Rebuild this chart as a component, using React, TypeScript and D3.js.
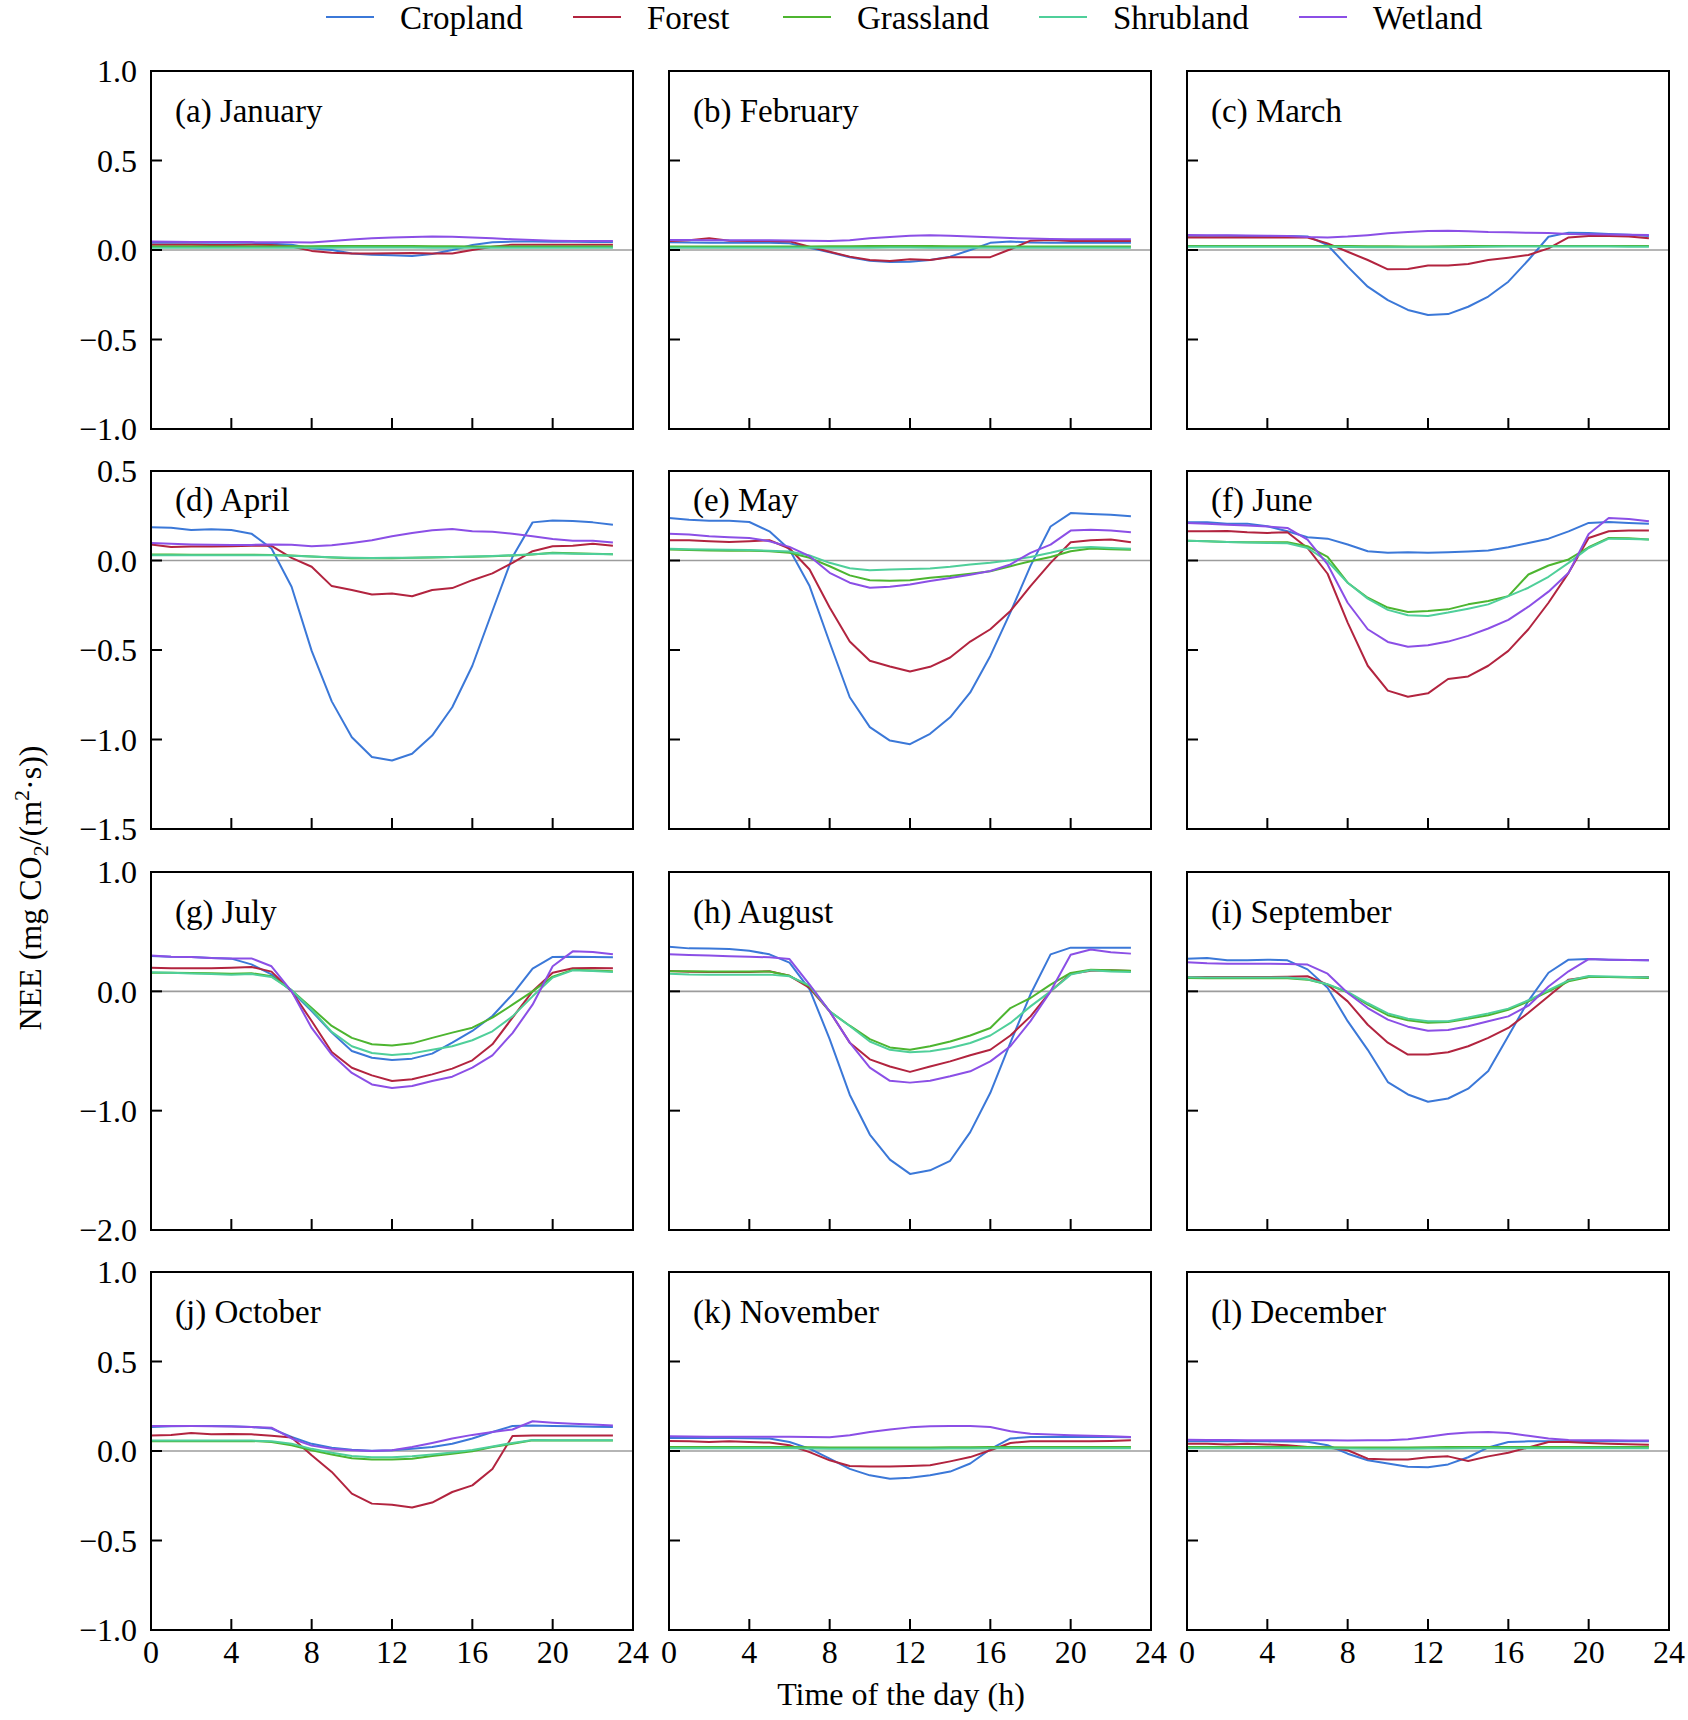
import React from "react";
import * as d3 from "d3";

// hourly mean NEE, one row per month (Jan..Dec), 24 hours each
const months = ["(a) January", "(b) February", "(c) March", "(d) April", "(e) May", "(f) June",
	"(g) July", "(h) August", "(i) September", "(j) October", "(k) November", "(l) December"];

const cropland = [
	[0.04, 0.04, 0.04, 0.04, 0.04, 0.04, 0.035, 0.03, 0.01, 0, -0.02, -0.027, -0.03, -0.033, -0.022, 0, 0.028, 0.043, 0.047, 0.047, 0.046, 0.046, 0.045, 0.045],
	[0.043, 0.042, 0.041, 0.04, 0.04, 0.04, 0.038, 0.013, -0.013, -0.04, -0.06, -0.067, -0.065, -0.056, -0.037, 0, 0.04, 0.047, 0.042, 0.04, 0.04, 0.04, 0.04, 0.04],
	[0.08, 0.08, 0.079, 0.078, 0.078, 0.078, 0.076, 0.028, -0.093, -0.205, -0.28, -0.335, -0.363, -0.358, -0.317, -0.26, -0.177, -0.056, 0.074, 0.097, 0.095, 0.09, 0.085, 0.078],
	[0.186, 0.183, 0.17, 0.175, 0.17, 0.15, 0.067, -0.147, -0.505, -0.787, -0.987, -1.098, -1.117, -1.08, -0.978, -0.82, -0.588, -0.282, 0.02, 0.213, 0.223, 0.22, 0.213, 0.2],
	[0.237, 0.228, 0.222, 0.222, 0.215, 0.163, 0.061, -0.143, -0.458, -0.764, -0.931, -1.006, -1.026, -0.968, -0.876, -0.737, -0.533, -0.29, -0.03, 0.19, 0.265, 0.26, 0.256, 0.247],
	[0.213, 0.213, 0.206, 0.206, 0.191, 0.163, 0.13, 0.122, 0.089, 0.052, 0.043, 0.046, 0.043, 0.046, 0.05, 0.056, 0.074, 0.098, 0.122, 0.163, 0.21, 0.215, 0.21, 0.206],
	[0.296, 0.29, 0.288, 0.28, 0.274, 0.226, 0.142, 0, -0.165, -0.346, -0.5, -0.556, -0.575, -0.564, -0.522, -0.43, -0.332, -0.207, -0.025, 0.19, 0.288, 0.29, 0.288, 0.285],
	[0.374, 0.36, 0.358, 0.354, 0.34, 0.31, 0.24, 0.017, -0.4, -0.866, -1.2, -1.41, -1.53, -1.5, -1.42, -1.18, -0.85, -0.43, -0.025, 0.31, 0.366, 0.366, 0.366, 0.366],
	[0.274, 0.28, 0.26, 0.26, 0.265, 0.26, 0.184, 0.03, -0.25, -0.49, -0.76, -0.864, -0.925, -0.898, -0.816, -0.668, -0.374, -0.08, 0.156, 0.265, 0.27, 0.265, 0.262, 0.26],
	[0.134, 0.138, 0.14, 0.14, 0.138, 0.134, 0.125, 0.078, 0.04, 0.018, 0.007, 0.002, 0.004, 0.013, 0.022, 0.04, 0.07, 0.106, 0.14, 0.143, 0.14, 0.138, 0.136, 0.134],
	[0.073, 0.073, 0.072, 0.072, 0.071, 0.07, 0.05, 0.013, -0.043, -0.1, -0.136, -0.155, -0.15, -0.136, -0.115, -0.07, 0.01, 0.07, 0.078, 0.078, 0.078, 0.078, 0.078, 0.077],
	[0.054, 0.054, 0.054, 0.054, 0.054, 0.053, 0.052, 0.032, -0.015, -0.052, -0.07, -0.088, -0.091, -0.075, -0.035, 0.02, 0.05, 0.054, 0.054, 0.054, 0.054, 0.054, 0.054, 0.054],
];

const forest = [
	[0.03, 0.03, 0.03, 0.028, 0.028, 0.03, 0.028, 0.02, -0.005, -0.015, -0.02, -0.02, -0.018, -0.017, -0.019, -0.02, 0, 0.018, 0.03, 0.03, 0.03, 0.03, 0.03, 0.03],
	[0.05, 0.055, 0.065, 0.052, 0.05, 0.05, 0.048, 0.018, -0.01, -0.037, -0.056, -0.061, -0.052, -0.056, -0.04, -0.04, -0.04, 0.004, 0.052, 0.056, 0.05, 0.05, 0.05, 0.05],
	[0.07, 0.07, 0.07, 0.07, 0.07, 0.07, 0.07, 0.037, -0.01, -0.056, -0.108, -0.106, -0.087, -0.087, -0.078, -0.056, -0.043, -0.028, 0.009, 0.07, 0.078, 0.078, 0.075, 0.065],
	[0.089, 0.076, 0.078, 0.078, 0.08, 0.083, 0.082, 0.015, -0.035, -0.143, -0.165, -0.19, -0.184, -0.2, -0.165, -0.154, -0.11, -0.072, -0.013, 0.052, 0.08, 0.083, 0.093, 0.083],
	[0.113, 0.113, 0.108, 0.104, 0.108, 0.113, 0.067, -0.05, -0.263, -0.453, -0.56, -0.592, -0.62, -0.594, -0.542, -0.453, -0.384, -0.282, -0.143, -0.013, 0.102, 0.113, 0.117, 0.102],
	[0.163, 0.163, 0.165, 0.158, 0.154, 0.158, 0.07, -0.074, -0.347, -0.588, -0.727, -0.761, -0.742, -0.662, -0.648, -0.588, -0.505, -0.384, -0.236, -0.069, 0.126, 0.163, 0.167, 0.167],
	[0.198, 0.193, 0.193, 0.193, 0.198, 0.204, 0.165, 0, -0.249, -0.508, -0.64, -0.704, -0.751, -0.737, -0.696, -0.648, -0.578, -0.444, -0.221, 0, 0.156, 0.193, 0.196, 0.193],
	[0.17, 0.165, 0.162, 0.162, 0.162, 0.168, 0.13, 0.028, -0.168, -0.43, -0.57, -0.63, -0.675, -0.63, -0.587, -0.536, -0.49, -0.37, -0.21, 0, 0.148, 0.173, 0.176, 0.17],
	[0.117, 0.12, 0.12, 0.12, 0.12, 0.122, 0.126, 0.056, -0.084, -0.28, -0.43, -0.53, -0.53, -0.51, -0.46, -0.39, -0.307, -0.18, -0.042, 0.098, 0.12, 0.12, 0.12, 0.12],
	[0.087, 0.09, 0.1, 0.093, 0.095, 0.093, 0.085, 0.075, -0.024, -0.117, -0.238, -0.294, -0.3, -0.316, -0.288, -0.229, -0.192, -0.1, 0.084, 0.087, 0.087, 0.087, 0.087, 0.087],
	[0.056, 0.054, 0.05, 0.054, 0.05, 0.047, 0.032, -0.006, -0.052, -0.084, -0.086, -0.086, -0.084, -0.08, -0.058, -0.034, 0.004, 0.045, 0.054, 0.054, 0.054, 0.054, 0.056, 0.06],
	[0.041, 0.041, 0.037, 0.041, 0.037, 0.032, 0.022, 0.02, 0.004, -0.043, -0.048, -0.048, -0.035, -0.03, -0.056, -0.03, -0.01, 0.02, 0.05, 0.05, 0.045, 0.041, 0.038, 0.035],
];

const grassland = [
	[0.02, 0.02, 0.02, 0.02, 0.02, 0.02, 0.02, 0.021, 0.021, 0.022, 0.022, 0.022, 0.022, 0.022, 0.021, 0.021, 0.02, 0.02, 0.02, 0.02, 0.02, 0.02, 0.02, 0.02],
	[0.02, 0.02, 0.02, 0.02, 0.02, 0.02, 0.02, 0.02, 0.021, 0.021, 0.022, 0.022, 0.022, 0.022, 0.021, 0.021, 0.02, 0.02, 0.02, 0.02, 0.02, 0.02, 0.02, 0.02],
	[0.022, 0.022, 0.022, 0.022, 0.022, 0.022, 0.022, 0.022, 0.022, 0.021, 0.021, 0.02, 0.02, 0.021, 0.022, 0.023, 0.023, 0.022, 0.022, 0.022, 0.022, 0.022, 0.022, 0.022],
	[0.033, 0.033, 0.032, 0.032, 0.032, 0.032, 0.031, 0.028, 0.022, 0.017, 0.013, 0.012, 0.013, 0.015, 0.017, 0.019, 0.021, 0.024, 0.028, 0.033, 0.043, 0.04, 0.038, 0.035],
	[0.061, 0.059, 0.056, 0.055, 0.054, 0.052, 0.043, 0.015, -0.032, -0.083, -0.11, -0.113, -0.11, -0.096, -0.087, -0.074, -0.06, -0.032, -0.004, 0.02, 0.052, 0.067, 0.063, 0.06],
	[0.111, 0.107, 0.104, 0.102, 0.102, 0.102, 0.08, 0.02, -0.124, -0.208, -0.263, -0.288, -0.282, -0.273, -0.245, -0.226, -0.199, -0.078, -0.028, 0.006, 0.074, 0.126, 0.124, 0.117],
	[0.156, 0.156, 0.154, 0.151, 0.148, 0.152, 0.126, 0.01, -0.14, -0.29, -0.39, -0.444, -0.453, -0.436, -0.39, -0.346, -0.305, -0.221, -0.112, 0, 0.123, 0.18, 0.175, 0.168],
	[0.168, 0.168, 0.167, 0.167, 0.166, 0.166, 0.13, 0.042, -0.168, -0.288, -0.4, -0.47, -0.49, -0.46, -0.42, -0.37, -0.307, -0.14, -0.056, 0.056, 0.154, 0.18, 0.176, 0.173],
	[0.112, 0.11, 0.11, 0.11, 0.11, 0.11, 0.098, 0.056, -0.008, -0.112, -0.2, -0.243, -0.263, -0.257, -0.23, -0.2, -0.154, -0.084, 0, 0.084, 0.12, 0.12, 0.116, 0.112],
	[0.054, 0.054, 0.054, 0.055, 0.055, 0.056, 0.05, 0.032, 0.004, -0.02, -0.04, -0.048, -0.048, -0.043, -0.028, -0.015, -0.002, 0.022, 0.04, 0.06, 0.058, 0.058, 0.058, 0.058],
	[0.022, 0.022, 0.022, 0.022, 0.022, 0.022, 0.022, 0.021, 0.02, 0.02, 0.019, 0.019, 0.02, 0.02, 0.021, 0.021, 0.022, 0.022, 0.022, 0.022, 0.022, 0.022, 0.022, 0.022],
	[0.022, 0.022, 0.022, 0.022, 0.022, 0.022, 0.022, 0.021, 0.02, 0.02, 0.02, 0.02, 0.021, 0.022, 0.022, 0.022, 0.022, 0.022, 0.022, 0.022, 0.022, 0.022, 0.022, 0.022],
];

const shrubland = [
	[0.012, 0.012, 0.012, 0.012, 0.012, 0.012, 0.012, 0.012, 0.013, 0.013, 0.014, 0.014, 0.014, 0.014, 0.013, 0.013, 0.012, 0.012, 0.012, 0.012, 0.012, 0.012, 0.012, 0.012],
	[0.012, 0.012, 0.012, 0.012, 0.012, 0.012, 0.012, 0.012, 0.012, 0.013, 0.013, 0.014, 0.014, 0.013, 0.013, 0.012, 0.012, 0.012, 0.012, 0.012, 0.012, 0.012, 0.012, 0.012],
	[0.018, 0.018, 0.018, 0.018, 0.018, 0.018, 0.018, 0.018, 0.017, 0.016, 0.016, 0.015, 0.015, 0.016, 0.017, 0.018, 0.019, 0.019, 0.019, 0.019, 0.019, 0.019, 0.018, 0.018],
	[0.03, 0.03, 0.03, 0.03, 0.03, 0.03, 0.03, 0.027, 0.022, 0.018, 0.015, 0.014, 0.015, 0.016, 0.018, 0.02, 0.022, 0.025, 0.03, 0.035, 0.04, 0.038, 0.036, 0.035],
	[0.065, 0.063, 0.062, 0.06, 0.058, 0.055, 0.05, 0.028, -0.013, -0.043, -0.054, -0.05, -0.048, -0.045, -0.035, -0.022, -0.013, 0.002, 0.02, 0.043, 0.07, 0.076, 0.07, 0.065],
	[0.111, 0.107, 0.104, 0.1, 0.098, 0.096, 0.07, -0.004, -0.124, -0.213, -0.276, -0.306, -0.31, -0.291, -0.269, -0.245, -0.199, -0.152, -0.091, -0.013, 0.07, 0.122, 0.12, 0.117],
	[0.16, 0.155, 0.15, 0.145, 0.14, 0.145, 0.12, 0.01, -0.154, -0.34, -0.46, -0.517, -0.533, -0.52, -0.49, -0.46, -0.41, -0.335, -0.21, -0.042, 0.115, 0.176, 0.17, 0.162],
	[0.148, 0.142, 0.14, 0.14, 0.14, 0.14, 0.126, 0.05, -0.168, -0.29, -0.42, -0.49, -0.51, -0.503, -0.475, -0.433, -0.37, -0.265, -0.126, 0, 0.14, 0.176, 0.166, 0.162],
	[0.118, 0.116, 0.116, 0.115, 0.115, 0.115, 0.102, 0.06, -0.004, -0.1, -0.185, -0.23, -0.25, -0.25, -0.22, -0.185, -0.145, -0.075, 0.01, 0.092, 0.128, 0.125, 0.12, 0.118],
	[0.058, 0.058, 0.058, 0.058, 0.058, 0.058, 0.055, 0.04, 0.012, -0.01, -0.028, -0.035, -0.035, -0.03, -0.02, -0.008, 0.005, 0.025, 0.045, 0.062, 0.06, 0.06, 0.06, 0.06],
	[0.015, 0.015, 0.015, 0.015, 0.015, 0.015, 0.015, 0.014, 0.013, 0.013, 0.012, 0.012, 0.013, 0.013, 0.014, 0.014, 0.015, 0.015, 0.015, 0.015, 0.015, 0.015, 0.015, 0.015],
	[0.015, 0.015, 0.015, 0.015, 0.015, 0.015, 0.015, 0.014, 0.014, 0.013, 0.013, 0.013, 0.014, 0.014, 0.015, 0.015, 0.015, 0.015, 0.015, 0.015, 0.015, 0.015, 0.015, 0.015],
];

const wetland = [
	[0.047, 0.046, 0.045, 0.045, 0.044, 0.044, 0.043, 0.043, 0.042, 0.05, 0.058, 0.065, 0.07, 0.073, 0.075, 0.074, 0.07, 0.065, 0.06, 0.056, 0.052, 0.05, 0.05, 0.05],
	[0.056, 0.056, 0.055, 0.055, 0.055, 0.054, 0.053, 0.052, 0.05, 0.055, 0.065, 0.073, 0.08, 0.082, 0.079, 0.075, 0.071, 0.067, 0.064, 0.062, 0.06, 0.06, 0.06, 0.06],
	[0.084, 0.083, 0.082, 0.081, 0.08, 0.078, 0.072, 0.07, 0.075, 0.083, 0.093, 0.1, 0.106, 0.108, 0.105, 0.1, 0.099, 0.096, 0.095, 0.09, 0.088, 0.086, 0.085, 0.084],
	[0.098, 0.093, 0.09, 0.088, 0.087, 0.087, 0.09, 0.088, 0.08, 0.085, 0.098, 0.113, 0.135, 0.154, 0.169, 0.176, 0.163, 0.16, 0.15, 0.135, 0.12, 0.11, 0.11, 0.1],
	[0.15, 0.145, 0.135, 0.13, 0.126, 0.108, 0.076, 0.024, -0.069, -0.124, -0.152, -0.147, -0.134, -0.115, -0.098, -0.08, -0.059, -0.022, 0.043, 0.089, 0.167, 0.172, 0.167, 0.158],
	[0.21, 0.206, 0.2, 0.196, 0.19, 0.182, 0.117, -0.022, -0.236, -0.384, -0.455, -0.482, -0.473, -0.453, -0.421, -0.38, -0.332, -0.258, -0.174, -0.069, 0.148, 0.237, 0.232, 0.219],
	[0.3, 0.29, 0.288, 0.28, 0.276, 0.276, 0.21, 0, -0.307, -0.53, -0.684, -0.78, -0.81, -0.793, -0.751, -0.715, -0.64, -0.536, -0.35, -0.112, 0.21, 0.335, 0.33, 0.31],
	[0.31, 0.305, 0.3, 0.295, 0.29, 0.285, 0.27, 0.056, -0.168, -0.43, -0.64, -0.75, -0.765, -0.75, -0.712, -0.67, -0.587, -0.46, -0.25, 0, 0.307, 0.35, 0.327, 0.316],
	[0.243, 0.235, 0.232, 0.232, 0.232, 0.23, 0.224, 0.148, -0.014, -0.14, -0.237, -0.296, -0.33, -0.324, -0.293, -0.25, -0.21, -0.12, 0.04, 0.168, 0.27, 0.265, 0.262, 0.26],
	[0.14, 0.14, 0.14, 0.138, 0.137, 0.134, 0.13, 0.07, 0.03, 0.013, 0.004, 0, 0.004, 0.022, 0.045, 0.07, 0.09, 0.106, 0.12, 0.166, 0.158, 0.152, 0.148, 0.143],
	[0.082, 0.081, 0.08, 0.08, 0.08, 0.08, 0.079, 0.078, 0.077, 0.088, 0.106, 0.12, 0.132, 0.138, 0.14, 0.14, 0.134, 0.11, 0.097, 0.092, 0.088, 0.085, 0.083, 0.078],
	[0.063, 0.062, 0.061, 0.06, 0.06, 0.06, 0.06, 0.06, 0.058, 0.06, 0.06, 0.065, 0.08, 0.095, 0.103, 0.106, 0.1, 0.085, 0.07, 0.062, 0.06, 0.06, 0.058, 0.058],
];

const seriesNames = ["Cropland", "Forest", "Grassland", "Shrubland", "Wetland"];
const seriesData = [cropland, forest, grassland, shrubland, wetland];
const seriesColors = ["#3b78d8", "#b2243f", "#4db530", "#4fcf9a", "#8b4fe6"];

// y range for each row of panels
const rowDomains = [[-1, 1], [-1.5, 0.5], [-2, 1], [-1, 1]];
const rowTicks = [
	[-1, -0.5, 0, 0.5, 1],
	[-1.5, -1, -0.5, 0, 0.5],
	[-2, -1, 0, 1],
	[-1, -0.5, 0, 0.5, 1],
];
const xTicks = [0, 4, 8, 12, 16, 20, 24];

// layout
const W = 1688, H = 1720;
const colLeft = [151, 669, 1187];
const rowTop = [71, 471, 872, 1272];
const titleOffset = [51, 40, 51, 51];
const panelW = 482, panelH = 358;
const legendX = [326, 573, 783, 1039, 1299];
const font = "'Liberation Serif', 'Times New Roman', serif";
const fmt = d3.format(".1f");

function Panel({ idx }) {
	const row = Math.floor(idx / 3), col = idx % 3;
	const x0 = colLeft[col], y0 = rowTop[row];
	const x = d3.scaleLinear().domain([0, 24]).range([x0, x0 + panelW]);
	const y = d3.scaleLinear().domain(rowDomains[row]).range([y0 + panelH, y0]);
	const line = d3.line<number>()
		.x((d, i) => x(i))
		.y((d) => y(d));
	const ticksY = rowTicks[row];
	const [ymin, ymax] = rowDomains[row];

	return (
		<g>
			{/* zero line */}
			<line x1={x0} x2={x0 + panelW} y1={y(0)} y2={y(0)} stroke="#9c9c9c" strokeWidth={1.6} />
			{seriesData.map((s, k) => (
				<path key={k} d={line(s[idx])} fill="none" stroke={seriesColors[k]} strokeWidth={2} strokeLinejoin="round" />
			))}
			<rect x={x0} y={y0} width={panelW} height={panelH} fill="none" stroke="#000" strokeWidth={2} />
			{/* inner ticks */}
			{xTicks.filter((t) => t > 0 && t < 24).map((t) => (
				<line key={"x" + t} x1={x(t)} x2={x(t)} y1={y0 + panelH} y2={y0 + panelH - 11} stroke="#000" strokeWidth={2} />
			))}
			{ticksY.filter((t) => t > ymin && t < ymax).map((t) => (
				<line key={"y" + t} x1={x0} x2={x0 + 11} y1={y(t)} y2={y(t)} stroke="#000" strokeWidth={2} />
			))}
			{col === 0 && ticksY.map((t) => (
				<text key={"yl" + t} x={x0 - 14} y={y(t)} dy="0.35em" textAnchor="end" fontSize={32}>
					{fmt(t)}
				</text>
			))}
			{row === 3 && xTicks.map((t) => (
				<text key={"xl" + t} x={x(t)} y={y0 + panelH + 33} textAnchor="middle" fontSize={32}>
					{t}
				</text>
			))}
			<text x={x0 + 24} y={y0 + titleOffset[row]} fontSize={33}>{months[idx]}</text>
		</g>
	);
}

export default function App() {
	return (
		<svg width={W} height={H} style={{ position: "absolute", left: 0, top: 0, background: "#fff" }}
			fontFamily={font} fill="#000">
			<rect width={W} height={H} fill="#fff" />
			{/* legend */}
			{seriesNames.map((name, k) => (
				<g key={name}>
					<line x1={legendX[k]} x2={legendX[k] + 48} y1={17} y2={17} stroke={seriesColors[k]} strokeWidth={2} />
					<text x={legendX[k] + 74} y={17} dy="0.35em" fontSize={33}>{name}</text>
				</g>
			))}
			{months.map((m, i) => <Panel key={m} idx={i} />)}
			<text transform="translate(30,888) rotate(-90)" textAnchor="middle" dy="0.35em" fontSize={32}>
				NEE (mg CO<tspan fontSize={22} dy={7}>2</tspan><tspan dy={-7}>/(m</tspan>
				<tspan fontSize={22} dy={-12}>2</tspan><tspan dy={12}>·s))</tspan>
			</text>
			<text x={901} y={1705} textAnchor="middle" fontSize={32}>Time of the day (h)</text>
		</svg>
	);
}
